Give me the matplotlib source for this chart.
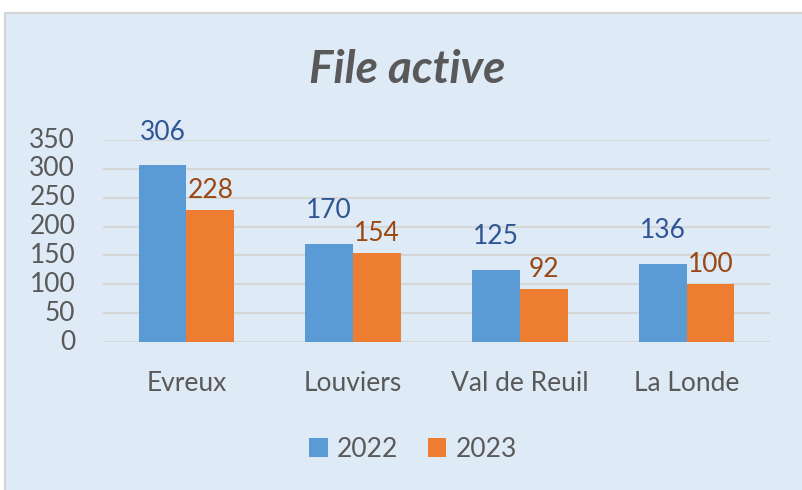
import matplotlib.pyplot as plt
from matplotlib.patches import Rectangle
import numpy as np

categories = ['Evreux', 'Louviers', 'Val de Reuil', 'La Londe']
years = ['2022', '2023']
values_2022 = [306, 170, 125, 136]
values_2023 = [228, 154, 92, 100]
yticks = [0, 50, 100, 150, 200, 250, 300, 350]

plt.rcParams['font.family'] = ['Lato', 'DejaVu Sans']

bar_colors = ['#5B9BD5', '#ED7D31']
label_colors = ['#2F5597', '#9A4813']
text_grey = '#595959'

fig = plt.figure(figsize=(8.02, 4.9), dpi=100)
fig.patch.set_facecolor('white')
fig.patches.append(Rectangle((5 / 802, -0.01), 1.0, 1 - 13 / 490 + 0.01, transform=fig.transFigure,
                             facecolor='#DEEAF6', edgecolor='#D4D4D4', linewidth=1.5, zorder=-5))

ax = fig.add_axes([103 / 802, 1 - 342 / 490, 667 / 802, 202 / 490])
ax.set_facecolor('none')

x = np.arange(len(categories))
width = 0.287
offsets = [24, 14]
for i, (vals, name) in enumerate(zip([values_2022, values_2023], years)):
    pos = x + (i - 0.5) * width
    ax.bar(pos, vals, width, color=bar_colors[i], label=name, zorder=3)
    for px, v in zip(pos, vals):
        ax.annotate(str(v), (px, v), xytext=(0, offsets[i]), textcoords='offset points',
                    ha='center', va='center', fontsize=19, color=label_colors[i],
                    annotation_clip=False, zorder=4)

ax.set_xlim(-0.5, 3.5)
ax.set_ylim(0, 350)
ax.set_yticks(yticks)
ax.set_xticks(x)
ax.set_xticklabels(categories)
ax.tick_params(axis='both', length=0, labelsize=19, colors=text_grey)
ax.tick_params(axis='x', pad=21)
ax.tick_params(axis='y', pad=20)
for lab in ax.get_yticklabels():
    lab.set_verticalalignment('center')
ax.yaxis.grid(True, color='#D6D6D6', linewidth=1.5, zorder=0)
ax.set_axisbelow(True)
for s in ax.spines.values():
    s.set_visible(False)

fig.text(0.508, 1 - 70 / 490, 'File active', ha='center', va='center', fontsize=33,
         fontweight='bold', fontstyle='italic', color=text_grey)

fig.legend(loc='center', bbox_to_anchor=(0.515, 1 - 449 / 490), ncol=2, frameon=False,
           fontsize=19, handlelength=0.7, handleheight=0.7, handletextpad=0.35,
           columnspacing=1.1, labelcolor=text_grey)

fig.savefig('out.png', dpi=100)
